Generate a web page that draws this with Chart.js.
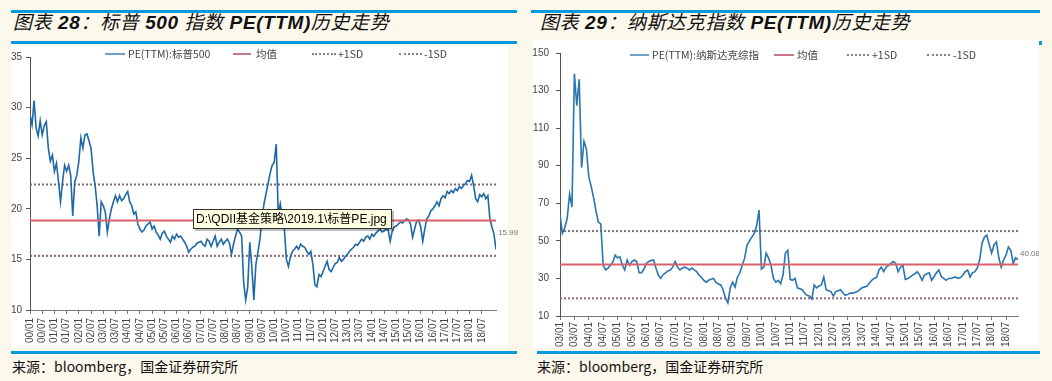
<!DOCTYPE html>
<html><head><meta charset="utf-8">
<script src="https://cdn.jsdelivr.net/npm/chart.js@4"></script>
<style>
html,body{margin:0;padding:0;background:#fdf8ec;width:1052px;height:381px;overflow:hidden;font-family:"Liberation Sans",Arial,sans-serif;}
.bar{position:absolute;height:3px;background:#0a98dc;}
.plot{position:absolute;background:#fff;}
.title{position:absolute;font-style:italic;font-size:19px;letter-spacing:0.6px;color:#111;white-space:nowrap;font-family:"Liberation Sans","Noto Sans CJK SC",sans-serif;line-height:22px;}
.title b{font-weight:bold;}
.src{position:absolute;font-size:14px;color:#111;font-family:"Noto Sans CJK SC",sans-serif;white-space:nowrap;line-height:18px;}
.leg{position:absolute;font-family:"Liberation Sans Narrow","Noto Sans CJK SC",sans-serif;font-size:10.5px;color:#444;white-space:nowrap;line-height:12px;}
.sw{position:absolute;height:0;}
canvas{position:absolute;}
.tip{position:absolute;background:#ffffe1;border:1px solid #333;box-shadow:2px 2px 0 rgba(0,0,0,0.25);font-family:"Liberation Sans","Noto Sans CJK SC",sans-serif;font-size:12px;line-height:18px;padding-left:2px;white-space:nowrap;color:#000;}
</style></head>
<body>
<!-- left panel -->
<div class="bar" style="left:11px;top:10px;width:506px;"></div>
<div class="title" style="left:13px;top:12px;">图表 <b>28</b>：标普 <b>500</b> 指数 <b>PE(TTM)</b>历史走势</div>
<div class="bar" style="left:11px;top:41px;width:506px;"></div>
<div class="plot" style="left:11px;top:44px;width:497px;height:304px;"></div>
<canvas id="c1" width="508" height="304" style="left:11px;top:44px;"></canvas>
<div class="sw" style="left:105px;top:53px;width:20px;border-top:2px solid #6e9fc6;"></div>
<div class="leg" style="left:128px;top:48px;">PE(TTM):标普500</div>
<div class="sw" style="left:233px;top:53px;width:18px;border-top:2px solid #c77a85;"></div>
<div class="leg" style="left:256px;top:48px;">均值</div>
<div class="sw" style="left:312px;top:53px;width:24px;border-top:2px dotted #8a8088;"></div>
<div class="leg" style="left:338px;top:48px;">+1SD</div>
<div class="sw" style="left:399px;top:53px;width:23px;border-top:2px dotted #8a8088;"></div>
<div class="leg" style="left:424px;top:48px;">-1SD</div>
<div class="tip" style="left:193px;top:209px;width:195px;height:18px;">D:\QDII基金策略\2019.1\标普PE.jpg</div>
<div class="bar" style="left:11px;top:351px;width:506px;"></div>
<div class="src" style="left:12px;top:357px;">来源：bloomberg，国金证券研究所</div>

<!-- right panel -->
<div class="bar" style="left:531px;top:10px;width:509px;"></div>
<div class="title" style="left:540px;top:12px;">图表 <b>29</b>：纳斯达克指数 <b>PE(TTM)</b>历史走势</div>
<div class="plot" style="left:533px;top:40px;width:506px;height:308px;"></div>
<div class="bar" style="left:1039px;top:41px;width:3px;height:4px;"></div>
<canvas id="c2" width="506" height="308" style="left:533px;top:40px;"></canvas>
<div class="sw" style="left:630px;top:54px;width:19px;border-top:2px solid #6e9fc6;"></div>
<div class="leg" style="left:652px;top:49px;">PE(TTM):纳斯达克综指</div>
<div class="sw" style="left:774px;top:54px;width:20px;border-top:2px solid #c77a85;"></div>
<div class="leg" style="left:797px;top:49px;">均值</div>
<div class="sw" style="left:847px;top:54px;width:22px;border-top:2px dotted #8a8088;"></div>
<div class="leg" style="left:872px;top:49px;">+1SD</div>
<div class="sw" style="left:927px;top:54px;width:23px;border-top:2px dotted #8a8088;"></div>
<div class="leg" style="left:953px;top:49px;">-1SD</div>
<div class="bar" style="left:537px;top:351px;width:503px;"></div>
<div class="src" style="left:537px;top:357px;">来源：bloomberg，国金证券研究所</div>

<script>
// ---------- S&P 500 PE(TTM), monthly from 2000/01 ----------
const spTickLabels = ['00/01','00/07','01/01','01/07','02/01','02/07','03/01','03/07','04/01','04/07',
  '05/01','05/07','06/01','06/07','07/01','07/07','08/01','08/07','09/01','09/07',
  '10/01','10/07','11/01','11/07','12/01','12/07','13/01','13/07','14/01','14/07',
  '15/01','15/07','16/01','16/07','17/01','17/07','18/01','18/07'];
const spPE = [29.3,28.3,30.7,28.0,27.2,28.7,27.3,28.2,28.6,26.0,
  24.7,25.3,23.7,24.5,22.7,20.7,22.7,24.3,23.7,24.3,
  23.3,19.3,22.7,23.3,24.7,27.0,26.0,27.3,27.4,26.7,
  26.0,23.7,22.3,20.3,17.3,20.7,20.3,19.7,17.7,19.0,
  20.0,20.7,21.3,20.7,21.3,20.8,21.0,21.4,21.7,20.7,
  20.3,19.5,19.7,18.5,18.0,17.7,17.9,18.3,18.5,18.7,
  18.0,18.3,17.7,17.4,17.0,17.6,17.8,17.3,17.0,16.7,
  17.3,17.0,17.5,17.2,17.3,17.0,16.7,16.3,15.7,16.0,
  16.2,16.3,16.6,16.7,16.8,16.5,16.3,17.0,16.8,16.3,
  16.8,17.3,16.3,16.7,17.0,16.5,16.8,17.0,16.6,15.5,
  16.5,17.3,18.0,17.7,17.3,12.7,11.0,12.3,16.7,14.3,
  11.0,14.5,15.7,17.0,19.0,20.5,21.5,22.5,23.5,24.3,
  24.6,26.4,19.5,20.5,19.0,18.0,15.0,14.3,15.3,15.8,
  16.0,16.3,16.0,16.5,16.3,16.2,15.8,15.5,15.8,14.5,
  12.5,12.3,13.5,13.3,13.8,14.3,14.8,14.0,13.8,14.2,
  14.6,14.7,15.2,14.8,15.0,15.3,15.5,15.8,16.0,16.2,
  16.5,16.4,16.7,17.0,16.8,17.2,17.3,17.0,17.5,17.3,
  17.6,17.8,18.0,17.7,17.8,18.0,17.9,16.8,17.8,18.2,
  18.3,18.5,18.7,18.6,18.8,19.0,18.9,18.5,17.2,18.0,
  18.8,18.9,18.2,16.8,18.0,19.0,19.3,19.8,20.0,20.3,
  20.7,20.3,21.0,21.3,21.1,21.7,21.5,21.8,21.6,22.0,
  21.8,22.2,22.0,22.3,22.5,22.8,22.7,23.3,22.3,21.0,
  20.7,21.4,21.2,21.5,21.0,21.3,19.0,18.2,17.5,15.99];
const spMean = 18.85;
const spPlus1SD = 22.4;
const spMinus1SD = 15.35;
const spYTicks = [10, 15, 20, 25, 30, 35];

// ---------- NASDAQ Composite PE(TTM), monthly from 2003/01 ----------
const ndTickLabels = ['03/01','03/07','04/01','04/07','05/01','05/07','06/01','06/07','07/01','07/07',
  '08/01','08/07','09/01','09/07','10/01','10/07','11/01','11/07','12/01','12/07',
  '13/01','13/07','14/01','14/07','15/01','15/07','16/01','16/07','17/01','17/07','18/01','18/07'];
const ndPE = [63.7,54,57,62,75,68,139,122,136,89,
  103,99,84,79,73,66,60,59,37,34.5,
  35.5,37,38.5,42.4,41,41.5,37,34.5,39.8,37,
  39,39.8,39,33,33,35,38,39,39.5,39.8,
  35.5,31.8,30,32,33,34,34.5,36,39,36,
  34.5,35.5,36,35.5,34.5,35.5,34.5,33.6,31.8,30.5,
  29,28,29,29.5,30,28,27,26.5,24,19.6,
  17,25,28,25.4,30.7,33,37,40.8,47.8,50,
  52,54,58,66.4,35,36,43.5,40.8,37,30,
  28,29,27.2,31.8,43.5,45,29.5,29,30,25,
  24.5,24,22.2,21,20.6,19,26.5,25,26,26.5,
  30.7,24,23.5,23,20.6,23,23.5,24,22.2,21,
  21.5,22.2,22.2,22.5,23,24,25,25.5,25.8,27.5,
  29,30,30.5,34.5,36,33.6,36,37,38,39,
  38,33.6,36,37,29.5,30,30.7,31.8,32.5,33.6,
  31.8,29,31.8,32.5,33,29,31,33,34.5,31,
  30,29,30,30,30.5,30.7,30,30.5,31.8,33.6,
  34.5,30.7,33,33.6,35.5,39.8,48.8,52,53,48,
  43.5,47.8,49.4,41,36,39.8,42.4,46.7,45,38,
  41,40.08];
const ndMean = 37.4;
const ndPlus1SD = 55.2;
const ndMinus1SD = 19.4;
const ndYTicks = [10, 30, 50, 70, 90, 110, 130, 150];

const tickFont = {family:'"Liberation Sans Narrow","Liberation Sans",Arial,sans-serif', size:10};

const lastLabel = {
  id:'lastLabel',
  afterDatasetsDraw(chart, args, o){
    const meta = chart.getDatasetMeta(1);
    const p = meta.data[meta.data.length-1];
    const ctx = chart.ctx;
    ctx.save();
    ctx.font = '8px "Liberation Sans Narrow","Liberation Sans",sans-serif';
    ctx.fillStyle = '#777';
    ctx.textBaseline = 'middle';
    ctx.fillText(o.text, p.x + o.dx, p.y + o.dy);
    ctx.restore();
  }
};

function build(id, cfg){
  const n = cfg.values.length;
  const pts = cfg.values.map((v,i)=>({x:i,y:v}));
  const hline = v => [{x:0,y:v},{x:n-1,y:v}];
  return new Chart(document.getElementById(id), {
    type:'line',
    data:{datasets:[
      {data:hline(cfg.mean), borderColor:'#d9606b', borderWidth:2, pointRadius:0, order:0},
      {data:pts, borderColor:cfg.color, borderWidth:1.6, pointRadius:0, tension:0, order:1},
      {data:hline(cfg.plus), borderColor:'#7a6c78', borderWidth:2, borderDash:[2,2], pointRadius:0, order:2},
      {data:hline(cfg.minus), borderColor:'#8f6680', borderWidth:2, borderDash:[2,2], pointRadius:0, order:3}
    ]},
    options:{
      responsive:false, animation:false, events:[],
      layout:{padding:{top:cfg.padTop, right:cfg.padRight, left:0, bottom:0}},
      plugins:{legend:{display:false}, tooltip:{enabled:false},
        lastLabel:{text:cfg.values[n-1].toFixed(2), dx:cfg.lx, dy:cfg.ly}},
      scales:{
        x:{type:'linear', min:0, max:n-1,
          grid:{display:true, drawOnChartArea:false, drawTicks:true, tickLength:4, color:'#777'},
          border:{display:true, color:'#777', width:1},
          afterBuildTicks:s=>{ s.ticks = cfg.ticks.map((_,i)=>({value:i*6})); },
          afterFit:s=>{ s.height = cfg.xH; s.paddingLeft = 0; s.paddingRight = 0; },
          ticks:{autoSkip:false, minRotation:90, maxRotation:90, padding:cfg.xPad, color:'#444', font:tickFont,
            callback:v=>cfg.ticks[Math.round(v/6)]}
        },
        y:{min:cfg.ymin, max:cfg.ymax,
          grid:{display:true, drawOnChartArea:false, drawTicks:true, tickLength:4, color:'#555'},
          border:{display:true, color:'#555', width:1},
          afterBuildTicks:s=>{ s.ticks = cfg.yticks.map(v=>({value:v})); },
          afterFit:s=>{ s.width = cfg.yW; },
          ticks:{padding:cfg.yPad, color:'#444', font:tickFont}
        }
      }
    },
    plugins:[lastLabel]
  });
}

build('c1', {values:spPE, ticks:spTickLabels, mean:spMean, plus:spPlus1SD, minus:spMinus1SD,
  color:'#1f68a6', ymin:10, ymax:35, yticks:spYTicks, padTop:13, padRight:23, xH:38, yW:19, xPad:4, yPad:4, lx:2, ly:-17});
build('c2', {values:ndPE, ticks:ndTickLabels, mean:ndMean, plus:ndPlus1SD, minus:ndMinus1SD,
  color:'#2a74b0', ymin:10, ymax:150, yticks:ndYTicks, padTop:13, padRight:21, xH:32, yW:27, xPad:2, yPad:7, lx:2, ly:-6});
</script>
</body></html>
